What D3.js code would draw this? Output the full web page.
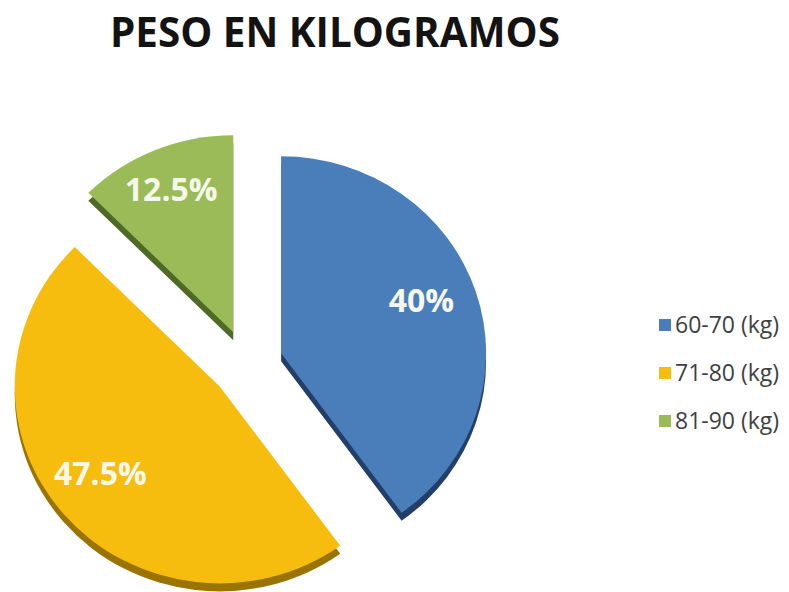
<!DOCTYPE html>
<html>
<head>
<meta charset="utf-8">
<script src="https://cdn.jsdelivr.net/npm/d3@7"></script>
<style>
  body { margin: 0; background: #ffffff; }
  svg { display: block; }
</style>
</head>
<body>
<svg id="chart" width="789" height="592"></svg>
<script>
// Weight distribution, in kilograms
const chartTitle = "PESO EN KILOGRAMOS";
const categories = ["60-70 (kg)", "71-80 (kg)", "81-90 (kg)"];
const percentages = [40, 47.5, 12.5];
const valueLabels = ["40%", "47.5%", "12.5%"];
const faceColors = ["#4A7EBB", "#F6BC0E", "#9BBB59"];
const sideColors = ["#223F69", "#9A7300", "#4E6A24"];

const W = 789, H = 592;
const svg = d3.select("#chart");
svg.append("rect").attr("width", W).attr("height", H).attr("fill", "#ffffff");

// Title
svg.append("text")
  .attr("x", 335).attr("y", 47)
  .attr("text-anchor", "middle")
  .attr("font-family", "'Open Sans', sans-serif")
  .attr("font-weight", 700)
  .attr("font-size", 42)
  .attr("fill", "#131313")
  .attr("textLength", 450)
  .attr("lengthAdjust", "spacingAndGlyphs")
  .text(chartTitle);

// Exploded pie, slightly tilted, with a shallow extruded side
const R = 200, cx = 247, cy = 364, explode = 35;
const sx = 1.025, sy = 0.985, depth = 8;
const labelRadius = 148, labelLift = -8, labelShift = -4;

const arcs = d3.pie().sort(null).value(d => d)(percentages);
const arc = d3.arc().innerRadius(0).outerRadius(R);
const labelArc = d3.arc().innerRadius(labelRadius).outerRadius(labelRadius);

function explodeOffset(d) {
  const mid = (d.startAngle + d.endAngle) / 2;
  return [explode * Math.sin(mid), -explode * Math.cos(mid)];
}

const pieG = svg.append("g")
  .attr("transform", `translate(${cx},${cy}) scale(${sx},${sy})`);

// Extruded sides (drawn first, shifted down)
pieG.selectAll("path.side")
  .data(arcs)
  .join("path")
  .attr("class", "side")
  .attr("d", arc)
  .attr("fill", (d, i) => sideColors[i])
  .attr("transform", d => {
    const o = explodeOffset(d);
    return `translate(${o[0]},${o[1] + depth / sy})`;
  });

// Top faces
pieG.selectAll("path.face")
  .data(arcs)
  .join("path")
  .attr("class", "face")
  .attr("d", arc)
  .attr("fill", (d, i) => faceColors[i])
  .attr("transform", d => {
    const o = explodeOffset(d);
    return `translate(${o[0]},${o[1]})`;
  });

// Value labels
svg.selectAll("text.value")
  .data(arcs)
  .join("text")
  .attr("class", "value")
  .attr("x", d => {
    const c = labelArc.centroid(d), o = explodeOffset(d);
    return cx + sx * (c[0] + o[0]) + labelShift;
  })
  .attr("y", d => {
    const c = labelArc.centroid(d), o = explodeOffset(d);
    return cy + sy * (c[1] + o[1]) + labelLift;
  })
  .attr("dy", "0.36em")
  .attr("text-anchor", "middle")
  .attr("font-family", "'Open Sans', sans-serif")
  .attr("font-weight", 700)
  .attr("font-size", 32)
  .attr("fill", "#F7F8EC")
  .text((d, i) => valueLabels[i]);

// Legend
const legendY = d3.scalePoint().domain(categories).range([325, 421]);
const legend = svg.append("g");
const rows = legend.selectAll("g")
  .data(categories)
  .join("g")
  .attr("transform", d => `translate(659,${legendY(d)})`);
rows.append("rect")
  .attr("x", 0).attr("y", -6)
  .attr("width", 12).attr("height", 12)
  .attr("fill", (d, i) => faceColors[i]);
rows.append("text")
  .attr("x", 16).attr("y", 0).attr("dy", "0.35em")
  .attr("font-family", "'Open Sans', sans-serif")
  .attr("font-size", 23)
  .attr("fill", "#3F3F3F")
  .text(d => d);
</script>
</body>
</html>
